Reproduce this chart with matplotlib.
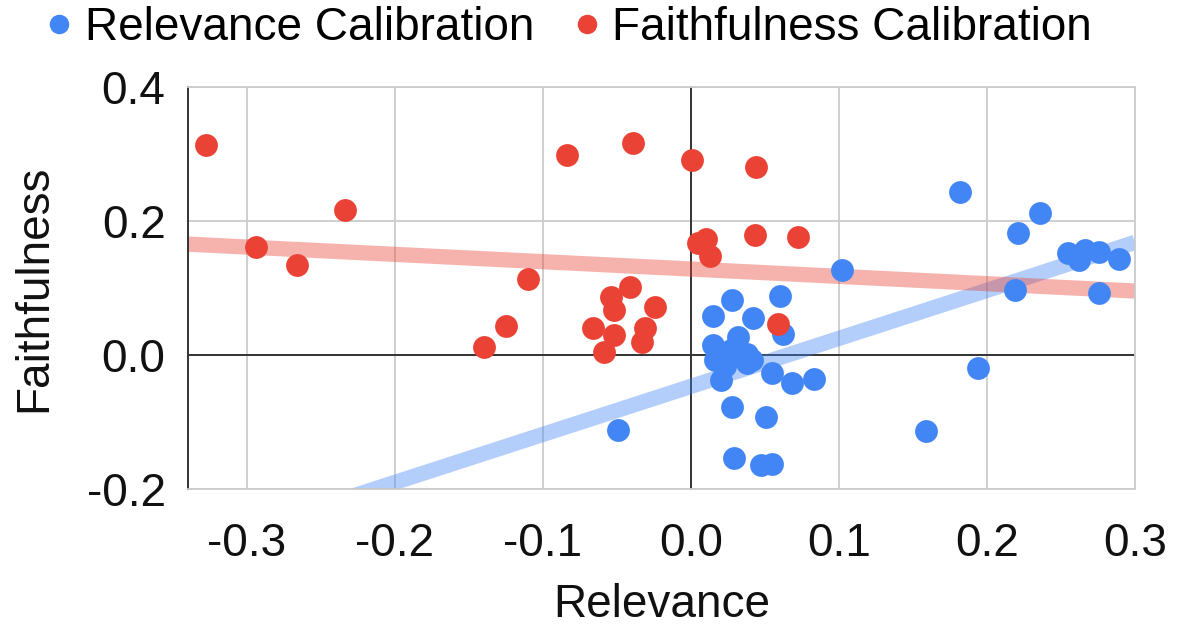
import numpy as np
import matplotlib
matplotlib.use('Agg')
import matplotlib.pyplot as plt
from matplotlib.lines import Line2D

plt.rcParams['font.family'] = ['Liberation Sans', 'DejaVu Sans']

# relevance calibration points (relevance, faithfulness)
rel_x = [0.182, 0.236, 0.221, 0.102, 0.255, 0.262, 0.266, 0.276, 0.289, 0.219,
         0.276, 0.194, 0.159, -0.049, 0.060, 0.028, 0.015, 0.042, 0.062, 0.015,
         0.032, 0.027, 0.038, 0.016, 0.038, 0.023, 0.020, 0.031, 0.041, 0.055,
         0.068, 0.083, 0.028, 0.051, 0.029, 0.047, 0.055]
rel_y = [0.244, 0.212, 0.182, 0.127, 0.152, 0.142, 0.157, 0.154, 0.143, 0.097,
         0.092, -0.020, -0.113, -0.112, 0.088, 0.082, 0.058, 0.055, 0.032, 0.015,
         0.027, 0.007, 0.002, -0.007, -0.012, -0.017, -0.037, -0.002, -0.007, -0.027,
         -0.042, -0.035, -0.077, -0.092, -0.154, -0.164, -0.162]

# faithfulness calibration points
fai_x = [-0.328, -0.294, -0.266, -0.234, -0.110, -0.125, -0.140, -0.084, -0.039, 0.001,
         0.044, 0.0045, 0.010, 0.013, 0.043, 0.072, 0.059, -0.041, -0.054, -0.052,
         -0.024, -0.066, -0.052, -0.059, -0.031, -0.033]
fai_y = [0.314, 0.162, 0.134, 0.216, 0.113, 0.044, 0.012, 0.299, 0.316, 0.291,
         0.281, 0.167, 0.174, 0.148, 0.179, 0.176, 0.047, 0.102, 0.087, 0.067,
         0.072, 0.040, 0.030, 0.005, 0.040, 0.020]

x_ticks = [-0.3, -0.2, -0.1, 0.0, 0.1, 0.2, 0.3]
y_ticks = [-0.2, 0.0, 0.2, 0.4]

blue = '#4285f4'
red = '#ea4335'
fs = 33

fig = plt.figure(figsize=(11.81, 6.27), dpi=100)
ax = fig.add_axes([0.159, 0.220, 0.802, 0.641])

xmin, xmax = -0.34, 0.3
xs = np.array([xmin, xmax])

# linear trendlines for both series
for xv, yv, c in [(rel_x, rel_y, blue), (fai_x, fai_y, red)]:
    k, b = np.polyfit(xv, yv, 1)
    ax.plot(xs, k * xs + b, color=c, lw=11, alpha=0.4, solid_capstyle='butt', zorder=2)

ax.scatter(rel_x, rel_y, s=270, color=blue, lw=0, zorder=3)
ax.scatter(fai_x, fai_y, s=270, color=red, lw=0, zorder=4)

ax.axhline(0, color='#333333', lw=1.4, zorder=1.5)
ax.axvline(0, color='#333333', lw=1.4, zorder=1.5)

ax.set_xlim(xmin, xmax)
ax.set_ylim(-0.2, 0.4)
ax.set_xticks(x_ticks)
ax.set_yticks(y_ticks)
ax.set_xticklabels([f'{t:.1f}' for t in x_ticks])
ax.set_yticklabels([f'{t:.1f}' for t in y_ticks])
ax.tick_params(length=0, labelsize=fs, colors='#111111')
ax.tick_params(axis='x', pad=24)
ax.tick_params(axis='y', pad=16)
ax.grid(True, color='#cccccc', lw=1.3, zorder=0)
ax.set_axisbelow(True)
for side in ['top', 'right', 'bottom']:
    ax.spines[side].set_color('#cccccc')
    ax.spines[side].set_linewidth(1.3)
ax.spines['left'].set_color('#333333')
ax.spines['left'].set_linewidth(1.4)

ax.set_xlabel('Relevance', fontsize=fs, color='#111111', labelpad=12)
ax.set_ylabel('Faithfulness', fontsize=fs, color='#111111', labelpad=22)

handles = [Line2D([], [], marker='o', ls='', color=blue, markersize=13),
           Line2D([], [], marker='o', ls='', color=red, markersize=13)]
fig.legend(handles, ['Relevance Calibration', 'Faithfulness Calibration'],
           loc='center left', bbox_to_anchor=(-0.004, 0.955), ncol=2, frameon=False,
           fontsize=fs, handletextpad=0.05, columnspacing=0.65, handlelength=1.0)

fig.savefig('out.png', dpi=100)
